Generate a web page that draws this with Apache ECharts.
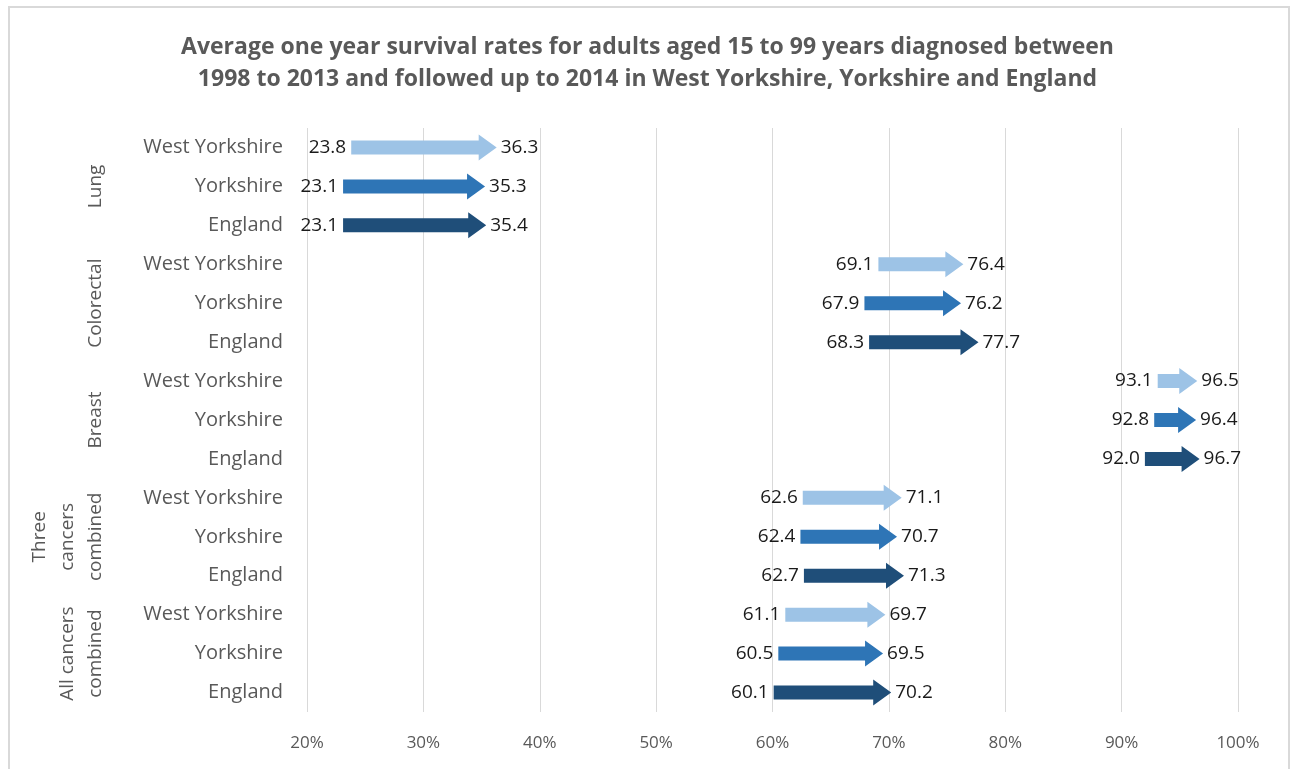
<!DOCTYPE html>
<html>
<head>
<meta charset="utf-8">
<script src="https://cdn.jsdelivr.net/npm/echarts@6/dist/echarts.min.js"></script>
<style>
  html, body { margin: 0; padding: 0; background: #fff; }
  #frame { position: absolute; left: 8px; top: 6px; width: 1282px; height: 770px; border: 2px solid #d9d9d9; box-sizing: border-box; }
  #main { position: absolute; left: 0; top: 0; width: 1295px; height: 769px; }
</style>
</head>
<body>
<div id="frame"></div>
<div id="main"></div>
<script>
  // categories
  var cancers = ['Lung', 'Colorectal', 'Breast', 'Three\ncancers\ncombined', 'All cancers\ncombined'];
  var regions = ['West Yorkshire', 'Yorkshire', 'England'];
  var regionColors = ['#9dc3e6', '#2e75b6', '#1f4e79'];

  // survival rates (%), one row per cancer, order follows regions
  var earlyRates = [
    [23.8, 23.1, 23.1],
    [69.1, 67.9, 68.3],
    [93.1, 92.8, 92.0],
    [62.6, 62.4, 62.7],
    [61.1, 60.5, 60.1]
  ];
  var lateRates = [
    [36.3, 35.3, 35.4],
    [76.4, 76.2, 77.7],
    [96.5, 96.4, 96.7],
    [71.1, 70.7, 71.3],
    [69.7, 69.5, 70.2]
  ];

  var xTicks = [20, 30, 40, 50, 60, 70, 80, 90, 100];

  var font = "'Open Sans', sans-serif";

  var rowKeys = [];
  var arrowData = [];
  var groupData = [];
  cancers.forEach(function (c, ci) {
    regions.forEach(function (r, ri) {
      var key = ci + '|' + r;
      rowKeys.push(key);
      arrowData.push([earlyRates[ci][ri], lateRates[ci][ri], rowKeys.length - 1, ri]);
    });
    groupData.push([xTicks[0], ci * 3 + 1, c]);
  });

  var chartDom = document.getElementById('main');
  var myChart = echarts.init(chartDom);
  var option;

  function renderArrow(params, api) {
    var from = api.value(0);
    var to = api.value(1);
    var row = api.value(2);
    var p0 = api.coord([from, row]);
    var p1 = api.coord([to, row]);
    var y = p0[1];
    var shaft = 7, head = 13, headLen = 18;
    var x0 = p0[0], x1 = p1[0], xh = x1 - headLen;
    var color = regionColors[api.value(3)];
    return {
      type: 'group',
      children: [
        {
          type: 'polygon',
          shape: {
            points: [
              [x0, y - shaft], [xh, y - shaft], [xh, y - head], [x1, y],
              [xh, y + head], [xh, y + shaft], [x0, y + shaft]
            ]
          },
          style: { fill: color }
        },
        {
          type: 'text',
          x: x0 - 5, y: y,
          style: {
            text: from.toFixed(1), fill: '#1a1a1a', font: '19px ' + font,
            align: 'right', verticalAlign: 'middle'
          }
        },
        {
          type: 'text',
          x: x1 + 4, y: y,
          style: {
            text: to.toFixed(1), fill: '#1a1a1a', font: '19px ' + font,
            align: 'left', verticalAlign: 'middle'
          }
        }
      ]
    };
  }

  function renderGroup(params, api) {
    var p = api.coord([api.value(0), api.value(1)]);
    return {
      type: 'text',
      x: 110, y: p[1],
      rotation: Math.PI / 2,
      style: {
        text: groupData[params.dataIndex][2],
        fill: '#595959', font: '19px ' + font,
        align: 'center', verticalAlign: 'bottom', lineHeight: 28
      }
    };
  }

  option = {
    animation: false,
    title: {
      text: 'Average one year survival rates for adults aged 15 to 99 years diagnosed between\n1998 to 2013 and followed up to 2014 in West Yorkshire, Yorkshire and England',
      left: 'center',
      top: 26,
      textStyle: {
        fontFamily: font,
        fontSize: 23,
        fontWeight: 'bold',
        color: '#595959',
        lineHeight: 32
      }
    },
    grid: {
      left: 307,
      right: 57,
      top: 128,
      bottom: 57
    },
    xAxis: {
      type: 'value',
      min: 20,
      max: 100,
      interval: 10,
      axisLine: { show: false },
      axisTick: { show: false },
      splitLine: { lineStyle: { color: '#d9d9d9', width: 1 } },
      axisLabel: {
        formatter: '{value}%',
        color: '#595959',
        fontFamily: font,
        fontSize: 17,
        margin: 23
      }
    },
    yAxis: {
      type: 'category',
      inverse: true,
      data: rowKeys,
      axisLine: { show: false },
      axisTick: { show: false },
      splitLine: { show: false },
      axisLabel: {
        color: '#595959',
        fontFamily: font,
        fontSize: 20,
        margin: 24,
        formatter: function (v) { return v.split('|')[1]; }
      }
    },
    series: [
      {
        type: 'custom',
        renderItem: renderArrow,
        encode: { x: [0, 1], y: 2 },
        data: arrowData,
        clip: false
      },
      {
        type: 'custom',
        renderItem: renderGroup,
        encode: { x: 0, y: 1 },
        data: groupData.map(function (g) { return [g[0], g[1]]; }),
        clip: false
      }
    ]
  };

  option && myChart.setOption(option);
</script>
</body>
</html>
